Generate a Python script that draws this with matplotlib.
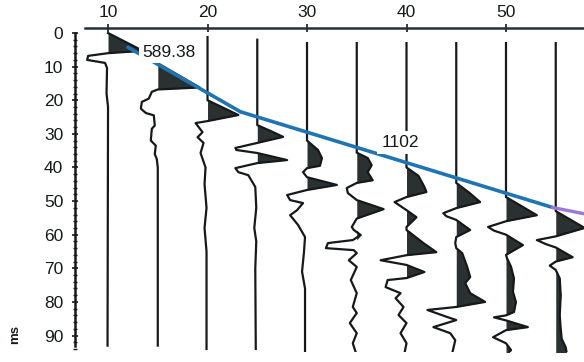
import numpy as np
import matplotlib.pyplot as plt
from matplotlib.ticker import MultipleLocator

plt.rcParams['font.family'] = ['Liberation Sans', 'DejaVu Sans']

# receiver offsets (m) and travel-time axis ticks (ms)
offsets = [10, 15, 20, 25, 30, 35, 40, 45, 50, 55]
x_ticks = [10, 20, 30, 40, 50]
t_ticks = [0, 10, 20, 30, 40, 50, 60, 70, 80, 90]

# wiggle traces as (time ms, amplitude) knots, amplitude in offset units
trace10 = [(0, 0), (5.0, 3.3), (5.4, 3.0), (6.0, 0), (6.8, -2.0), (8.0, -2.1),
           (8.3, -1.5), (8.9, -0.3), (10.4, -0.1), (18, -0.15), (22, 0), (93, -0.05)]
trace15 = [(3, 0), (9.0, 0), (16.2, 4.2), (16.8, 0), (17.5, -0.6), (19.5, -0.9),
           (20.5, -1.6), (22.5, -1.7), (23.8, -1.2), (24.5, -0.4), (27.5, -0.3),
           (28.5, -0.6), (32, -0.7), (33.5, -0.2), (36, -0.3), (37.5, -0.1),
           (40, 0), (93, 0)]
trace20 = [(1.2, 0), (20.0, 0), (24.4, 3.1), (26.2, 0), (26.8, -1.2), (29.5, -0.5),
           (31.0, -1.0), (32.7, -0.4), (35.7, -0.7), (40, -0.2), (45, -0.3),
           (52, -0.1), (58, -0.3), (65, -0.1), (94, -0.1)]
trace25 = [(2, 0), (27.4, 0), (29.5, 1.6), (30.9, 2.6), (32.7, 0), (34.2, -2.2),
           (34.8, -2.1), (35.7, 0), (37.8, 3.0), (38.7, 0), (40.2, -2.2),
           (41.4, -1.9), (42.3, -0.9), (45.8, -0.2), (52, -0.1), (58, -0.3),
           (62, -0.1), (70, -0.2), (94, -0.15)]
trace30 = [(3, 0), (32.0, 0), (34.8, 1.1), (37.2, 1.5), (39.5, 1.3), (40.2, 0),
           (41.4, -0.4), (42.9, 0), (45.2, 3.0), (46.7, 0), (48.2, -2.0),
           (49.7, -1.7), (50.6, -0.4), (52.7, -1.0), (54.2, -1.7), (57.1, -0.9),
           (60.7, -0.2), (65, -0.3), (71, -0.5), (76, -0.2), (95, -0.2)]
trace35 = [(3, 0), (35.6, 0), (37.2, 1.1), (39.3, 1.5), (41.4, 1.1), (43.8, 1.6),
           (44.6, 0), (46.1, -1.0), (47.6, -0.9), (49.7, 0), (52.4, 2.7),
           (55.2, 0), (57.7, -0.5), (58.6, -0.3), (60.1, 0.4), (61.6, -0.4),
           (62.5, -2.9), (64.0, -3.1), (64.6, -0.3), (65.5, 0), (67.6, -0.8),
           (69.6, 0), (73.5, -0.6), (77.4, 0), (81.5, -0.4), (83.3, 0),
           (86.3, -0.7), (89.3, 0), (92.3, -0.4), (95, -0.1)]
trace40 = [(3, 0), (40.0, 0), (42.5, 1.2), (45.8, 1.8), (47.3, 2.0), (48.8, 0),
           (50.3, -1.2), (52.7, 0), (54.8, 1.0), (57.7, 0), (58.6, 0), (62.5, 1.7),
           (65.2, 3.0), (66.1, 0), (67.6, -2.6), (69.0, 0), (71.1, 1.8), (72.9, 0),
           (73.5, -1.9), (75.6, -2.1), (77.4, -0.6), (78.9, -1.1), (81.5, -0.3),
           (83.9, -0.8), (86.3, 0), (89.3, -0.6), (92.3, 0), (95.2, -0.2)]
trace45 = [(3, 0), (44.6, 0), (47.5, 1.3), (50.3, 2.4), (52.1, 0), (53.6, -1.3),
           (54.5, -1.0), (55.6, 0), (58.6, 1.4), (60.7, 0), (62.5, -0.1),
           (64.0, 0), (65.5, 0.6), (69.6, 1.1), (72.6, 1.4), (74.4, 0.9),
           (77.4, 1.4), (80.0, 2.9), (81.5, 0), (82.4, -2.9), (84.5, -0.9),
           (85.4, 0), (87.5, -2.3), (89.3, -0.6), (91.4, -0.1), (95.2, -0.4)]
trace50 = [(3, 0), (48.8, 0), (54.2, 3.1), (56.0, 0), (57.7, -1.8), (58.8, -1.2),
           (60.0, 0), (63.1, 1.7), (66.0, 0), (67.0, 0.1), (69.5, 0.5), (73, 0.8),
           (77, 0.7), (80, 1.0), (83, 0.8), (84.0, 0), (84.6, -1.2), (85.5, 0),
           (87.5, 2.2), (88.4, 0), (90.5, -1.3), (92.3, 0), (94.3, 0.5), (95.2, 0.3)]
trace55 = [(3, 0), (53.0, 0), (58.0, 2.9), (60.5, 0), (61.6, -1.9), (62.8, -1.0),
           (63.8, 0), (66.7, 1.7), (68.0, 0), (69.2, -0.6), (70.5, 0), (73, 0.4),
           (78, 0.5), (84, 0.4), (88, 0.5), (91, 0.6), (93.5, 1.0), (95.2, 1.1)]
traces = [trace10, trace15, trace20, trace25, trace30,
          trace35, trace40, trace45, trace50, trace55]

# picked first-arrival velocities (m/s)
v_direct = 589.38
v_refracted = 1102
v_deep = 1700
x_source = 9.5          # m
t_intercept = 10.9      # ms, refracted branch

fig = plt.figure(figsize=(5.84, 3.62), dpi=100)
ax = fig.add_axes([75 / 584, 1 - 352 / 362, 1 - 75 / 584, (352 - 28) / 362])

ink = '#16191b'
fill_ink = '#2b3031'
for x0, knots in zip(offsets, traces):
    t = np.array([k[0] for k in knots])
    a = np.array([k[1] for k in knots])
    ax.fill_betweenx(t, x0, x0 + np.clip(a, 0, None), color=fill_ink, lw=0, zorder=2)
    ax.plot(x0 + a, t, color=ink, lw=1.6, zorder=3, solid_joinstyle='round')

# first-arrival picks: direct wave, then refracted branch
x_cross = x_source + t_intercept / (1000 / v_direct - 1000 / v_refracted)
xd = np.array([12.0, x_cross])
ax.plot(xd, (xd - x_source) * 1000 / v_direct, color='#1f74b4', lw=2.6,
        solid_capstyle='round', zorder=4)
xr = np.array([x_cross, 54.7])
tr = (xr - x_source) * 1000 / v_refracted + t_intercept
ax.plot(xr, tr, color='#1f74b4', lw=2.6, solid_capstyle='round', zorder=4)
xp = np.array([54.7, 58.5])
ax.plot(xp, tr[-1] + (xp - 54.7) * 1000 / v_deep, color='#9a7ad8', lw=2.4,
        zorder=4)

ax.text(16.13, 5.8, f'{v_direct:.2f}', ha='center', va='center', fontsize=12.5,
        color=ink, bbox=dict(fc='white', ec='none', pad=2.5), zorder=6)
ax.text(39.35, 32.6, f'{v_refracted}', ha='center', va='center', fontsize=12.5,
        color=ink, bbox=dict(fc='white', ec='none', pad=3), zorder=6)

ax.set_xlim(6.68, 57.84)
ax.set_ylim(94.9, -1.49)
ax.xaxis.tick_top()
ax.set_xticks(x_ticks)
ax.set_yticks(t_ticks)
ax.yaxis.set_minor_locator(MultipleLocator(2))
ax.tick_params(axis='x', which='major', direction='inout', length=6, width=1.2,
               pad=3, labelsize=12.5, colors=ink)
ax.tick_params(axis='y', which='major', direction='inout', length=5, width=1.2,
               pad=6, labelsize=12.5, colors=ink)
ax.tick_params(axis='y', which='minor', direction='inout', length=3, width=1,
               colors=ink)
for side in ('bottom', 'right'):
    ax.spines[side].set_visible(False)
ax.spines['top'].set_bounds(7.7, 57.84)
ax.spines['left'].set_bounds(0, 93)
ax.spines['top'].set_color('#223038')
ax.spines['left'].set_color(ink)
ax.spines['top'].set_linewidth(1.8)
ax.spines['left'].set_linewidth(1.8)

fig.text(0.026, 0.075, 'ms', rotation=90, fontsize=9.5, color=ink,
         ha='center', va='center', fontweight='bold')

fig.savefig('out.png', dpi=100)
